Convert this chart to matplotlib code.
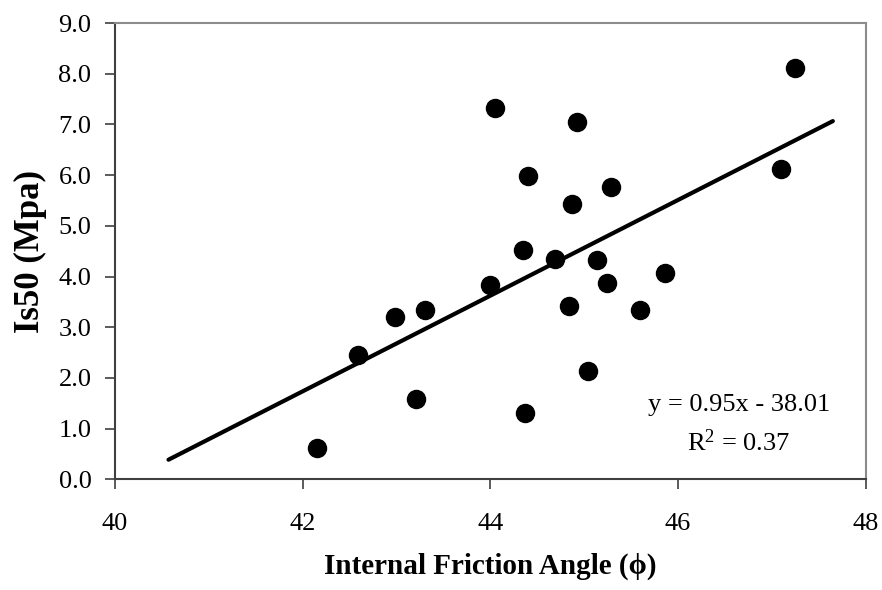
import matplotlib
import numpy as np

matplotlib.use("Agg")
import matplotlib.pyplot as plt

plt.rcParams["font.family"] = ["Liberation Serif", "DejaVu Serif"]
plt.rcParams["mathtext.fontset"] = "custom"
plt.rcParams["mathtext.rm"] = "Liberation Serif"
plt.rcParams["mathtext.default"] = "rm"

# Data
friction_angle = [42.15, 42.59, 42.98, 43.30, 43.21, 44.00, 44.05, 44.35, 44.37, 44.40, 44.69,
                  44.84, 44.87, 44.92, 45.04, 45.14, 45.24, 45.29, 45.59, 45.86, 47.10, 47.25]
is50 = [0.62, 2.46, 3.20, 3.34, 1.59, 3.84, 7.32, 4.52, 1.31, 5.99, 4.34,
        3.42, 5.44, 7.05, 2.13, 4.33, 3.88, 5.76, 3.33, 4.07, 6.12, 8.11]
trend_range = [40.57, 47.65]
x_ticks = [40, 42, 44, 46, 48]
y_ticks = [0, 1, 2, 3, 4, 5, 6, 7, 8, 9]

fig = plt.figure(figsize=(8.82, 5.90), dpi=100)
ax = fig.add_axes([0.1304, 0.1876, 0.8511, 0.7734])

ax.plot(friction_angle, is50, "o", color="black", markersize=13, zorder=3)

# Linear trendline
slope, intercept = np.polyfit(friction_angle, is50, 1)
tx = np.array(trend_range)
ax.plot(tx, slope * tx + intercept, color="black", linewidth=3, solid_capstyle="round", zorder=2)

ax.text(0.831, 0.163, "y = 0.95x - 38.01", transform=ax.transAxes,
        ha="center", va="center", fontsize=19)
ax.text(0.831, 0.080, "R$^2$ = 0.37", transform=ax.transAxes,
        ha="center", va="center", fontsize=19)

ax.set_xlim(40, 48)
ax.set_ylim(0, 9)
ax.set_xticks(x_ticks)
ax.set_yticks(y_ticks)
ax.set_yticklabels([f"{v:.1f}" for v in y_ticks])
ax.tick_params(direction="out", length=7, width=1.2, color="#404040",
               labelsize=19, pad=10)
ax.tick_params(axis="x", pad=17)

for side in ["left", "bottom"]:
    ax.spines[side].set_color("#404040")
    ax.spines[side].set_linewidth(1.5)
for side in ["top", "right"]:
    ax.spines[side].set_color("#8c8c8c")
    ax.spines[side].set_linewidth(1.5)

ax.set_xlabel("Internal Friction Angle (\u03d5)", fontsize=21, fontweight="bold", labelpad=13)
ax.set_ylabel("Is50 (Mpa)", fontsize=25, fontweight="bold", labelpad=8)

fig.savefig("out.png", dpi=100)
plt.close(fig)
